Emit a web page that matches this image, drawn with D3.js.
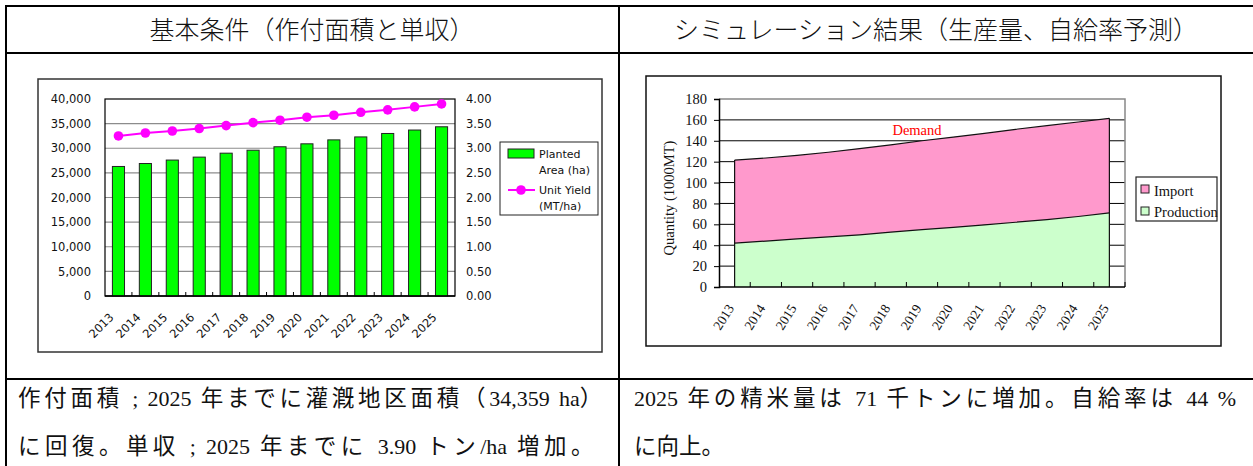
<!DOCTYPE html>
<html>
<head>
<meta charset="utf-8">
<script src="https://cdn.jsdelivr.net/npm/d3@7"></script>
<style>
  body { margin: 0; background: #fff; }
  svg { display: block; }
</style>
</head>
<body>
<svg id="page" width="1253" height="466"></svg>
<script>
// ---- data ----
const years = [2013, 2014, 2015, 2016, 2017, 2018, 2019, 2020, 2021, 2022, 2023, 2024, 2025];
// planted area (ha) and unit yield (MT/ha)
const plantedArea = [26300, 26900, 27600, 28200, 29000, 29600, 30300, 30900, 31700, 32300, 33000, 33700, 34359];
const unitYield = [3.25, 3.31, 3.35, 3.40, 3.46, 3.52, 3.57, 3.63, 3.67, 3.73, 3.78, 3.84, 3.90];
// milled rice balance (1000 MT)
const production = [42, 44, 46, 48, 50, 52.5, 55, 57, 59.5, 62, 64.5, 67.5, 71];
const importQty = [79.5, 79.5, 80, 81, 82.5, 83.5, 85, 86.5, 87.5, 89, 90, 90.5, 90.5];

const areaTicks = [0, 5000, 10000, 15000, 20000, 25000, 30000, 35000, 40000];
const yieldTicks = [0, 0.5, 1, 1.5, 2, 2.5, 3, 3.5, 4];
const qtyTicks = [0, 20, 40, 60, 80, 100, 120, 140, 160, 180];

const headerLeft = "基本条件（作付面積と単収）";
const headerRight = "シミュレーション結果（生産量、自給率予測）";
const noteLeft = ["作付面積 ; 2025 年までに灌漑地区面積（34,359 ha）", "に回復。単収 ; 2025 年までに 3.90 トン/ha 増加。"];
const noteRight = ["2025 年の精米量は 71 千トンに増加。自給率は 44 %", "に向上。"];

const svg = d3.select("#page");
const serif = "'Liberation Serif', 'Noto Sans CJK JP', serif";
const sans = "'DejaVu Sans', 'Noto Sans CJK JP', sans-serif";

// ---- table frame ----
const tbl = svg.append("g").attr("stroke", "#000").attr("stroke-width", 2);
[[6, 1260, 6, 6], [6, 1260, 53, 53], [6, 1260, 379, 379]].forEach(([x1, x2, y1, y2]) =>
  tbl.append("line").attr("x1", x1).attr("x2", x2).attr("y1", y1).attr("y2", y2));
tbl.append("line").attr("x1", 6).attr("x2", 6).attr("y1", 5).attr("y2", 470);
tbl.append("line").attr("x1", 619).attr("x2", 619).attr("y1", 5).attr("y2", 470);

// headers
svg.append("text").attr("x", 312).attr("y", 30).attr("dy", "0.35em")
  .attr("text-anchor", "middle").attr("font-family", serif).attr("font-size", 25)
  .attr("fill", "#111").attr("font-weight", 300).text(headerLeft);
svg.append("text").attr("x", 936).attr("y", 30).attr("dy", "0.35em")
  .attr("text-anchor", "middle").attr("font-family", serif).attr("font-size", 25)
  .attr("fill", "#111").attr("font-weight", 300).text(headerRight);

// notes under the charts: justified lines share the extra width between
// wide characters and word gaps, numbers keep their natural spacing
const isWide = ch => /[\u3000-\u9fff\uff00-\uffef]/.test(ch);
function splitRuns(str) {
  const runs = [];
  for (const ch of str) {
    const w = isWide(ch);
    if (runs.length && runs[runs.length - 1].wide === w) runs[runs.length - 1].s += ch;
    else runs.push({ wide: w, s: ch });
  }
  return runs;
}
const notes = [
  { x: 18, y: 406, text: noteLeft[0], len: 588 },
  { x: 18, y: 454, text: noteLeft[1], len: 580 },
  { x: 634, y: 406, text: noteRight[0], len: 602 },
  { x: 634, y: 454, text: noteRight[1], len: null }
];
notes.forEach(n => {
  const t = svg.append("text").attr("x", n.x).attr("y", n.y)
    .attr("font-family", serif).attr("font-size", 22).attr("fill", "#111");
  const runs = splitRuns(n.text);
  const spans = runs.map(r => t.append("tspan").text(r.s)
    .attr("font-size", r.wide ? 22.5 : 22));
  if (n.len) {
    const w0 = t.node().getComputedTextLength();
    const nWide = runs.filter(r => r.wide).reduce((a, r) => a + [...r.s].length, 0);
    const nGap = runs.filter(r => !r.wide).reduce((a, r) => a + (r.s.match(/ /g) || []).length, 0);
    const extra = (n.len - w0) / (nWide + nGap);
    runs.forEach((r, i) => {
      if (r.wide) spans[i].attr("letter-spacing", extra);
      else spans[i].attr("word-spacing", extra);
    });
  }
});

// ================= left chart: planted area & unit yield =================
{
  const g = svg.append("g");
  g.append("rect").attr("x", 38).attr("y", 79).attr("width", 564).attr("height", 273)
    .attr("fill", "#fff").attr("stroke", "#333").attr("stroke-width", 1.5);

  const L = 105, R = 455, T = 99, B = 296;
  const x = d3.scaleBand().domain(years).range([L, R]).paddingInner(0.55).paddingOuter(0.275);
  const yA = d3.scaleLinear().domain([0, 40000]).range([B, T]);
  const yY = d3.scaleLinear().domain([0, 4]).range([B, T]);

  // gridlines
  g.append("g").selectAll("line").data(areaTicks.slice(1, -1)).join("line")
    .attr("x1", L).attr("x2", R).attr("y1", d => yA(d)).attr("y2", d => yA(d))
    .attr("stroke", "#8c8c8c").attr("stroke-width", 1.2);
  g.append("rect").attr("x", L).attr("y", T).attr("width", R - L).attr("height", B - T)
    .attr("fill", "none").attr("stroke", "#000").attr("stroke-width", 1.2);

  // bars
  g.append("g").selectAll("rect").data(years).join("rect")
    .attr("x", d => x(d)).attr("width", x.bandwidth())
    .attr("y", (d, i) => yA(plantedArea[i])).attr("height", (d, i) => B - yA(plantedArea[i]))
    .attr("fill", "#00ff00").attr("stroke", "#222").attr("stroke-width", 1);

  // axes
  const axL = d3.axisLeft(yA).tickValues(areaTicks).tickSize(0).tickPadding(14)
    .tickFormat(d3.format(","));
  const gl = g.append("g").attr("transform", `translate(${L},0)`).call(axL);
  gl.select(".domain").remove();
  gl.selectAll("text").attr("font-family", sans).attr("font-size", 11.5).attr("fill", "#111");

  const axR = d3.axisRight(yY).tickValues(yieldTicks).tickSize(0).tickPadding(11)
    .tickFormat(d3.format(".2f"));
  const gr = g.append("g").attr("transform", `translate(${R},0)`).call(axR);
  gr.select(".domain").remove();
  gr.selectAll("text").attr("font-family", sans).attr("font-size", 11.5).attr("fill", "#111");

  // category boundary ticks
  const step = x.step();
  g.append("g").selectAll("line").data(years.slice(1)).join("line")
    .attr("x1", d => x(d) - step * 0.275).attr("x2", d => x(d) - step * 0.275)
    .attr("y1", B).attr("y2", B - 4).attr("stroke", "#000");
  g.append("line").attr("x1", L).attr("x2", R).attr("y1", B).attr("y2", B)
    .attr("stroke", "#000").attr("stroke-width", 1.5);

  // year labels
  g.append("g").selectAll("text").data(years).join("text")
    .attr("transform", d => `translate(${x(d) + x.bandwidth() / 2 - 4},${B + 22}) rotate(-45)`)
    .attr("text-anchor", "end").attr("font-family", sans).attr("font-size", 11.5)
    .attr("fill", "#111").text(d => d);

  // unit yield line
  const line = d3.line().x((d, i) => x(years[i]) + x.bandwidth() / 2).y(d => yY(d));
  g.append("path").datum(unitYield).attr("d", line)
    .attr("fill", "none").attr("stroke", "#ff00ff").attr("stroke-width", 2);
  g.append("g").selectAll("circle").data(unitYield).join("circle")
    .attr("cx", (d, i) => x(years[i]) + x.bandwidth() / 2).attr("cy", d => yY(d))
    .attr("r", 4.8).attr("fill", "#ff00ff");

  // legend
  const lg = g.append("g");
  lg.append("rect").attr("x", 500).attr("y", 142).attr("width", 98).attr("height", 73)
    .attr("fill", "#fff").attr("stroke", "#222").attr("stroke-width", 1);
  lg.append("rect").attr("x", 508).attr("y", 149).attr("width", 26).attr("height", 9)
    .attr("fill", "#00ff00").attr("stroke", "#222").attr("stroke-width", 1);
  lg.append("line").attr("x1", 508).attr("x2", 535).attr("y1", 190).attr("y2", 190)
    .attr("stroke", "#ff00ff").attr("stroke-width", 2);
  lg.append("circle").attr("cx", 521).attr("cy", 190).attr("r", 4.8).attr("fill", "#ff00ff");
  [["Planted", 158], ["Area (ha)", 174], ["Unit Yield", 194], ["(MT/ha)", 210]].forEach(([t, y]) =>
    lg.append("text").attr("x", 539).attr("y", y).attr("font-family", sans)
      .attr("font-size", 11).attr("fill", "#111").text(t));
}

// ================= right chart: production / import =================
{
  const g = svg.append("g");
  g.append("rect").attr("x", 646).attr("y", 76).attr("width", 575).attr("height", 270)
    .attr("fill", "#fff").attr("stroke", "#111").attr("stroke-width", 1.5);

  const L = 719, R = 1125, T = 99, B = 287;
  const x = d3.scaleBand().domain(years).range([L, R]).padding(0);
  const cx = d => x(d) + x.bandwidth() / 2;
  const y = d3.scaleLinear().domain([0, 180]).range([B, T]);

  // gridlines under the areas
  g.append("g").selectAll("line").data(qtyTicks.slice(1, -1)).join("line")
    .attr("x1", L).attr("x2", R).attr("y1", d => y(d)).attr("y2", d => y(d))
    .attr("stroke", "#000").attr("stroke-width", 1);
  g.append("path").attr("d", `M${L},${T}H${R}V${B}`).attr("fill", "none")
    .attr("stroke", "#888").attr("stroke-width", 1.5);

  const rows = years.map((yr, i) => ({ year: yr, production: production[i], import: importQty[i] }));
  const stack = d3.stack().keys(["production", "import"])(rows);
  const colors = { production: "#ccffcc", import: "#ff99cc" };
  const area = d3.area().x(d => cx(d.data.year)).y0(d => y(d[0])).y1(d => y(d[1]));
  g.append("g").selectAll("path").data(stack).join("path")
    .attr("d", area).attr("fill", d => colors[d.key]);
  // outlines on the top edges and ends
  const top = d3.line().x(d => cx(d.data.year)).y(d => y(d[1]));
  stack.forEach(s => g.append("path").attr("d", top(s)).attr("fill", "none")
    .attr("stroke", "#111").attr("stroke-width", 1.2));
  const last = stack[1];
  [0, years.length - 1].forEach(i =>
    g.append("line").attr("x1", cx(years[i])).attr("x2", cx(years[i]))
      .attr("y1", B).attr("y2", y(last[i][1])).attr("stroke", "#111").attr("stroke-width", 1.2));

  // y axis
  const ax = d3.axisLeft(y).tickValues(qtyTicks).tickSize(5).tickPadding(7);
  const ga = g.append("g").attr("transform", `translate(${L},0)`).call(ax);
  ga.select(".domain").attr("stroke", "#000").attr("stroke-width", 1.5);
  ga.selectAll("text").attr("font-family", serif).attr("font-size", 14.5).attr("fill", "#111");

  // x axis with inside ticks between categories
  g.append("g").selectAll("line").data(years.slice(1).concat(["end"])).join("line")
    .attr("x1", d => d === "end" ? R : x(d)).attr("x2", d => d === "end" ? R : x(d))
    .attr("y1", B).attr("y2", B - 5).attr("stroke", "#000");
  g.append("line").attr("x1", L).attr("x2", R).attr("y1", B).attr("y2", B)
    .attr("stroke", "#000").attr("stroke-width", 1.5);
  g.append("g").selectAll("text").data(years).join("text")
    .attr("transform", d => `translate(${cx(d)},${B + 21}) rotate(-58)`)
    .attr("text-anchor", "end").attr("font-family", serif).attr("font-size", 13.5)
    .attr("fill", "#111").text(d => d);

  // axis title
  g.append("text").attr("transform", "translate(669,198) rotate(-90)").attr("dy", "0.35em")
    .attr("text-anchor", "middle").attr("font-family", serif).attr("font-size", 14.5)
    .attr("fill", "#111").text("Quantity (1000MT)");

  g.append("text").attr("x", 917).attr("y", 135).attr("text-anchor", "middle")
    .attr("font-family", serif).attr("font-size", 14.5).attr("fill", "#ff0000").text("Demand");

  // legend
  const lg = g.append("g");
  lg.append("rect").attr("x", 1136).attr("y", 177).attr("width", 81).attr("height", 44)
    .attr("fill", "#fff").attr("stroke", "#222").attr("stroke-width", 1.2);
  [["import", "Import", 185, 196], ["production", "Production", 207, 217]].forEach(([k, t, ry, ty]) => {
    lg.append("rect").attr("x", 1141).attr("y", ry).attr("width", 8).attr("height", 8)
      .attr("fill", colors[k]).attr("stroke", "#222").attr("stroke-width", 1);
    lg.append("text").attr("x", 1154).attr("y", ty).attr("font-family", serif)
      .attr("font-size", 14.5).attr("fill", "#111").text(t);
  });
}
</script>
</body>
</html>
